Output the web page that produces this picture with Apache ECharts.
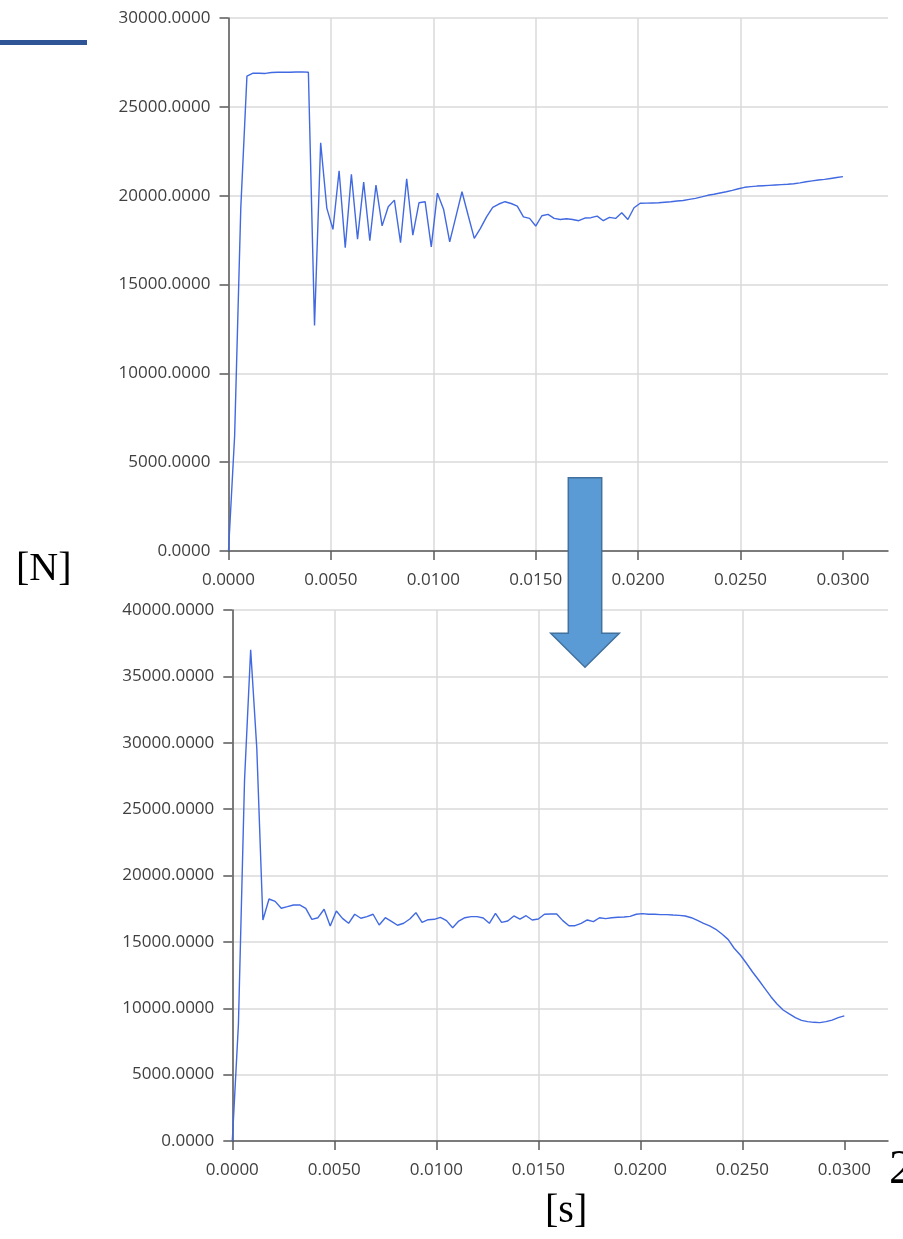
<!DOCTYPE html>
<html>
<head>
<meta charset="utf-8">
<script src="https://cdn.jsdelivr.net/npm/echarts@6/dist/echarts.min.js"></script>
<style>
html,body{margin:0;padding:0;background:#fff;}
#c{width:903px;height:1239px;}
</style>
</head>
<body>
<div id="c"></div>
<script>
// Sample times (s): 101 samples, 0.0003 s apart
const timeStep = 0.0003;
const sampleCount = 101;

// Upper chart force values [N]
const forceBefore = [
  0, 6500, 19300, 26730, 26900, 26890, 26880, 26930, 26950, 26950,
  26950, 26960, 26970, 26950, 12700, 22980, 19300, 18100, 21400, 17070,
  21200, 17550, 20760, 17460, 20600, 18300, 19380, 19750, 17350, 20950,
  17780, 19600, 19660, 17120, 20140, 19240, 17400, 18810, 20220, 18900,
  17600, 18160, 18810, 19340, 19530, 19660, 19560, 19410, 18810, 18720,
  18290, 18870, 18950, 18720, 18660, 18700, 18660, 18590, 18740, 18760,
  18850, 18590, 18780, 18720, 19040, 18660, 19320, 19570, 19580, 19590,
  19600, 19630, 19660, 19700, 19730, 19790, 19850, 19930, 20020, 20080,
  20150, 20220, 20300, 20390, 20470, 20510, 20540, 20560, 20580, 20600,
  20620, 20640, 20670, 20720, 20780, 20830, 20880, 20920, 20970, 21020,
  21070
];

// Lower chart force values [N]
const forceAfter = [
  0, 8800, 27200, 37000, 29600, 16650, 18230, 18050, 17530, 17650,
  17780, 17780, 17530, 16700, 16820, 17460, 16200, 17330, 16770, 16400,
  17080, 16780, 16900, 17080, 16270, 16820, 16550, 16250, 16400, 16720,
  17200, 16470, 16670, 16700, 16850, 16600, 16070, 16570, 16820, 16900,
  16900, 16800, 16400, 17150, 16470, 16570, 16950, 16720, 16970, 16650,
  16720, 17080, 17100, 17100, 16600, 16220, 16220, 16400, 16650, 16520,
  16820, 16750, 16820, 16850, 16870, 16920, 17080, 17130, 17080, 17080,
  17050, 17050, 17020, 17000, 16950, 16820, 16620, 16400, 16200, 15950,
  15590, 15190, 14520, 14010, 13390, 12730, 12130, 11500, 10870, 10320,
  9870, 9570, 9290, 9090, 8990, 8940, 8920, 8990, 9110, 9290,
  9420
];

// Tick labels
const xTicks = [0, 0.005, 0.010, 0.015, 0.020, 0.025, 0.030];
const yTicksTop = [0, 5000, 10000, 15000, 20000, 25000, 30000];
const yTicksBottom = [0, 5000, 10000, 15000, 20000, 25000, 30000, 35000, 40000];

const times = [];
for (let i = 0; i < sampleCount; i++) times.push(+(i * timeStep).toFixed(4));
const pairs = (vals) => vals.map((v, i) => [times[i], v]);

const labelFont = { color: '#404040', fontSize: 17, fontFamily: '"Open Sans", "Noto Sans", sans-serif' };
const axisLineStyle = { color: '#5a5a5a', width: 1.5 };
const gridLine = { show: true, lineStyle: { color: '#dadada', width: 1.5 }, showMaxLine: false };

function xAxisDef(gridIndex, max) {
  return {
    type: 'value', gridIndex, min: 0, max,
    axisLine: { show: true, lineStyle: axisLineStyle },
    axisTick: { show: true, length: 9, inside: false, lineStyle: axisLineStyle, customValues: xTicks },
    axisLabel: Object.assign({ margin: 21, formatter: v => v.toFixed(4), customValues: xTicks }, labelFont),
    splitLine: gridLine
  };
}
function yAxisDef(gridIndex, ticks) {
  return {
    type: 'value', gridIndex, min: 0, max: ticks[ticks.length - 1], interval: 5000,
    axisLine: { show: true, lineStyle: axisLineStyle },
    axisTick: { show: true, length: 9, lineStyle: axisLineStyle },
    axisLabel: Object.assign({ margin: 18, formatter: v => v.toFixed(4) }, labelFont),
    splitLine: { show: true, lineStyle: { color: '#dadada', width: 1.5 } }
  };
}

const chart = echarts.init(document.getElementById('c'), null, { renderer: 'canvas' });
const lineStyle = { color: '#4169e1', width: 1.4 };
chart.setOption({
  animation: false,
  backgroundColor: '#ffffff',
  grid: [
    { left: 228.5, top: 18, width: 659.5, height: 533 },
    { left: 232.3, top: 610, width: 655.7, height: 531 }
  ],
  xAxis: [xAxisDef(0, 0.0322), xAxisDef(1, 0.03214)],
  yAxis: [yAxisDef(0, yTicksTop), yAxisDef(1, yTicksBottom)],
  series: [
    { type: 'line', xAxisIndex: 0, yAxisIndex: 0, data: pairs(forceBefore), showSymbol: false, lineStyle, itemStyle: { color: '#4169e1' } },
    { type: 'line', xAxisIndex: 1, yAxisIndex: 1, data: pairs(forceAfter), showSymbol: false, lineStyle, itemStyle: { color: '#4169e1' } }
  ],
  graphic: [
    { type: 'rect', shape: { x: 0, y: 40, width: 87, height: 5 }, style: { fill: '#2f5597' }, z: 10 },
    { type: 'text', left: 16, top: 549, style: { text: '[N]', font: '40px "Liberation Serif", "Times New Roman", serif', fill: '#000' }, z: 10 },
    { type: 'text', left: 545, top: 1191, style: { text: '[s]', font: '40px "Liberation Serif", "Times New Roman", serif', fill: '#000' }, z: 10 },
    { type: 'text', left: 889, top: 1146, style: { text: '2', font: '48px "Liberation Serif", "Times New Roman", serif', fill: '#000' }, z: 10 },
    { type: 'polygon', shape: { points: [[568.3, 477.7], [601.7, 477.7], [601.7, 633.3], [619.3, 633.3], [585, 667.3], [550.7, 633.3], [568.3, 633.3]] },
      style: { fill: '#5b9bd5', stroke: '#41719c', lineWidth: 1.5 }, z: 20 }
  ]
});
</script>
</body>
</html>
